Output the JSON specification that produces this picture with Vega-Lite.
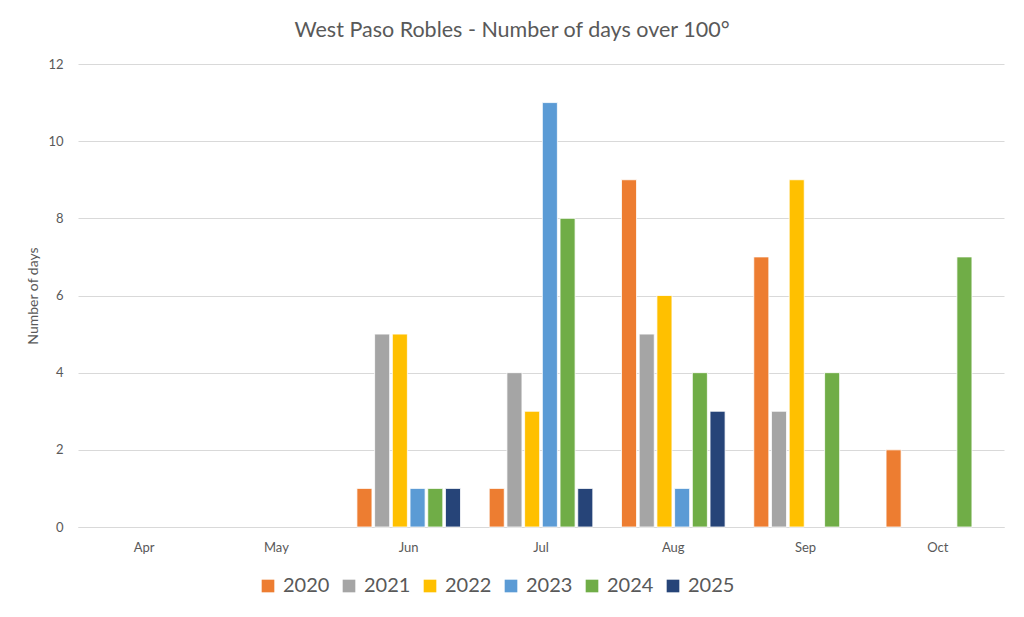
{
  "$schema": "https://vega.github.io/schema/vega-lite/v6.json",
  "width": 926,
  "height": 463,
  "autosize": {"type": "none"},
  "padding": {"left": 78, "top": 64, "right": 20, "bottom": 90},
  "background": "white",
  "config": {
    "font": "Lato",
    "view": {"stroke": null}
  },
  "title": {
    "text": "West Paso Robles - Number of days over 100°",
    "fontSize": 21.5,
    "fontWeight": "normal",
    "color": "#595959",
    "anchor": "middle",
    "dx": -29,
    "offset": 17,
    "font": "Lato"
  },
  "data": {
    "values": [
      {"month": "Jun", "year": "2020", "days": 1},
      {"month": "Jun", "year": "2021", "days": 5},
      {"month": "Jun", "year": "2022", "days": 5},
      {"month": "Jun", "year": "2023", "days": 1},
      {"month": "Jun", "year": "2024", "days": 1},
      {"month": "Jun", "year": "2025", "days": 1},
      {"month": "Jul", "year": "2020", "days": 1},
      {"month": "Jul", "year": "2021", "days": 4},
      {"month": "Jul", "year": "2022", "days": 3},
      {"month": "Jul", "year": "2023", "days": 11},
      {"month": "Jul", "year": "2024", "days": 8},
      {"month": "Jul", "year": "2025", "days": 1},
      {"month": "Aug", "year": "2020", "days": 9},
      {"month": "Aug", "year": "2021", "days": 5},
      {"month": "Aug", "year": "2022", "days": 6},
      {"month": "Aug", "year": "2023", "days": 1},
      {"month": "Aug", "year": "2024", "days": 4},
      {"month": "Aug", "year": "2025", "days": 3},
      {"month": "Sep", "year": "2020", "days": 7},
      {"month": "Sep", "year": "2021", "days": 3},
      {"month": "Sep", "year": "2022", "days": 9},
      {"month": "Sep", "year": "2024", "days": 4},
      {"month": "Oct", "year": "2020", "days": 2},
      {"month": "Oct", "year": "2024", "days": 7}
    ]
  },
  "mark": {"type": "bar", "stroke": "white", "strokeWidth": 0.8},
  "encoding": {
    "x": {
      "field": "month",
      "type": "nominal",
      "scale": {"domain": ["Apr", "May", "Jun", "Jul", "Aug", "Sep", "Oct"], "paddingInner": 0, "paddingOuter": 0},
      "axis": {
        "title": null,
        "labelAngle": 0,
        "labelFontSize": 13,
        "labelColor": "#595959",
        "labelPadding": 14,
        "ticks": false,
        "domainColor": "#d9d9d9",
        "domainWidth": 1
      }
    },
    "xOffset": {
      "field": "year",
      "type": "nominal",
      "scale": {"domain": ["2020", "2021", "2022", "2023", "2024", "2025"], "paddingInner": 0.15, "paddingOuter": 0.81}
    },
    "y": {
      "field": "days",
      "type": "quantitative",
      "scale": {"domain": [0, 12]},
      "axis": {
        "title": "Number of days",
        "titleFontSize": 14,
        "titleFontWeight": "normal",
        "titleColor": "#595959",
        "titlePadding": 7,
        "values": [0, 2, 4, 6, 8, 10, 12],
        "labelFontSize": 13,
        "labelColor": "#595959",
        "labelPadding": 15,
        "ticks": false,
        "domain": false,
        "gridColor": "#d9d9d9",
        "gridWidth": 1
      }
    },
    "color": {
      "field": "year",
      "type": "nominal",
      "scale": {
        "domain": ["2020", "2021", "2022", "2023", "2024", "2025"],
        "range": ["#ED7D31", "#A5A5A5", "#FFC000", "#5B9BD5", "#70AD47", "#264478"]
      },
      "legend": {
        "title": null,
        "orient": "none",
        "direction": "horizontal",
        "legendX": 180,
        "legendY": 512,
        "symbolType": "square",
        "symbolSize": 160,
        "symbolStrokeWidth": 0,
        "labelFontSize": 20,
        "labelColor": "#595959",
        "labelOffset": 5,
        "columnPadding": 9
      }
    }
  }
}
